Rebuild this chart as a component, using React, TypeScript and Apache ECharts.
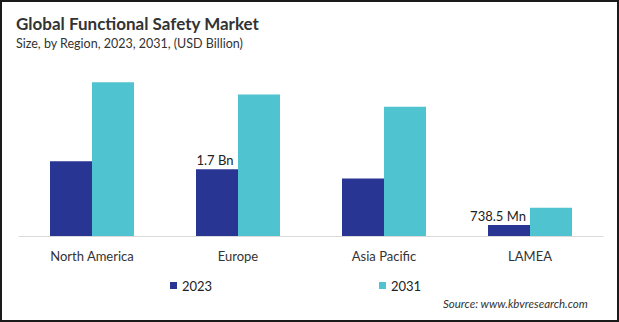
import React, { useEffect, useRef } from "react";
import * as echarts from "echarts";

const categories = ["North America", "Europe", "Asia Pacific", "LAMEA"];
const values2023 = [1.91, 1.7, 1.47, 0.28];
const values2031 = [3.92, 3.61, 3.3, 0.72];
const labels2023 = ["", "1.7 Bn", "", "738.5 Mn"];
const seriesNames = ["2023", "2031"];

const FONT = "Lato, 'Open Sans', sans-serif";

export default function App() {
  const ref = useRef<HTMLDivElement>(null);
  useEffect(() => {
    if (!ref.current) return;
    const chart = echarts.init(ref.current, null, { renderer: "svg" });
    chart.setOption({
      animation: false,
      textStyle: { fontFamily: FONT },
      title: {
        text: "Global Functional Safety Market",
        subtext: "Size, by Region, 2023, 2031, (USD Billion)",
        left: 16,
        top: 15,
        padding: 0,
        itemGap: 5,
        textStyle: { fontFamily: FONT, fontSize: 17, fontWeight: "bold", color: "#333" },
        subtextStyle: { fontFamily: FONT, fontSize: 12.5, color: "#333" },
      },
      legend: [
        {
          data: [seriesNames[0]],
          left: 170,
          top: 279,
          padding: 0,
          itemWidth: 7,
          itemHeight: 7,
          icon: "rect",
          textStyle: { fontFamily: FONT, fontSize: 13, color: "#222" },
        },
        {
          data: [seriesNames[1]],
          left: 379,
          top: 279,
          padding: 0,
          itemWidth: 7,
          itemHeight: 7,
          icon: "rect",
          textStyle: { fontFamily: FONT, fontSize: 13, color: "#222" },
        },
      ],
      grid: { left: 19, right: 16, top: 40, bottom: 86 },
      xAxis: {
        type: "category",
        data: categories,
        axisLine: { lineStyle: { color: "#d9d9d9", width: 1 } },
        axisTick: { show: false },
        axisLabel: { fontFamily: FONT, fontSize: 13, color: "#333", margin: 13 },
      },
      yAxis: {
        type: "value",
        min: 0,
        max: 5,
        show: false,
        splitLine: { show: false },
      },
      graphic: [
        {
          type: "text",
          right: 31,
          top: 297,
          style: {
            text: "Source: www.kbvresearch.com",
            fontFamily: FONT,
            fontStyle: "italic",
            fontSize: 11.5,
            fill: "#333",
          },
        },
      ],
      series: [
        {
          name: seriesNames[0],
          type: "bar",
          barWidth: 42,
          barGap: "0%",
          itemStyle: { color: "#283593" },
          data: values2023.map((v, i) => ({
            value: v,
            label: {
              show: labels2023[i] !== "",
              position: "top",
              distance: 3,
              offset: i === 3 ? [-11, 0] : [-2, 0],
              formatter: labels2023[i],
              fontFamily: FONT,
              fontSize: 13,
              color: "#222",
            },
          })),
        },
        {
          name: seriesNames[1],
          type: "bar",
          barWidth: 42,
          itemStyle: { color: "#4FC3D0" },
          data: values2031,
        },
      ],
    });
    return () => chart.dispose();
  }, []);
  return (
    <div
      style={{
        position: "fixed",
        left: 0,
        top: 0,
        width: 619,
        height: 322,
        boxSizing: "border-box",
        border: "2px solid #1a1a1a",
        background: "#fff",
      }}
    >
      <div ref={ref} style={{ position: "absolute", left: -2, top: -2, width: 619, height: 322 }} />
    </div>
  );
}
